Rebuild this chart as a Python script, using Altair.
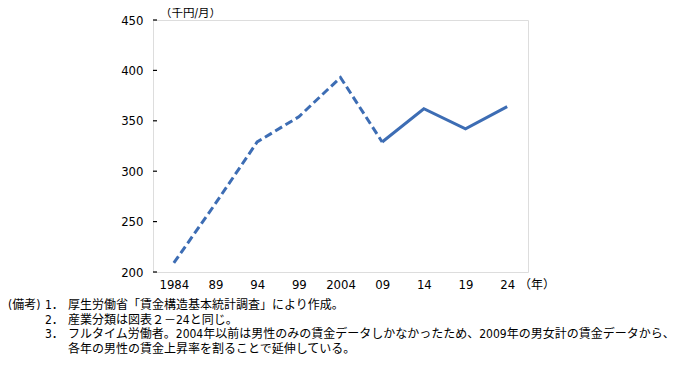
import altair as alt
import pandas as pd

labels = ["1984", "89", "94", "99", "2004", "09", "14", "19", "24"]
values = [209, 268, 329, 354, 393, 329, 362, 342, 364]
y_ticks = [200, 250, 300, 350, 400, 450]
dashed_idx = [0, 1, 2, 3, 4, 5]
solid_idx = [5, 6, 7, 8]

unit_label = "（千円/月）"
year_label = "（年）"
note_head = "(備考)"
note_nums = ["1．", "2．", "3．"]
note_lines = [
    "厚生労働省「賃金構造基本統計調査」により作成。",
    "産業分類は図表２－24と同じ。",
    "フルタイム労働者。2004年以前は男性のみの賃金データしかなかったため、2009年の男女計の賃金データから、",
    "各年の男性の賃金上昇率を割ることで延伸している。",
]

FONT = "DejaVu Sans Condensed, Liberation Sans Narrow, Noto Sans CJK JP, sans-serif"
JFONT = "DejaVu Sans Condensed, Noto Sans CJK JP, sans-serif"
COLOR = "#3d6db4"

df = pd.DataFrame({"label": labels, "value": values})
df_dash = df.iloc[dashed_idx]
df_solid = df.iloc[solid_idx]
df_ticks = pd.DataFrame({"value": y_ticks})

xscale = alt.Scale(domain=labels, padding=0.5)
yscale = alt.Scale(domain=[200, 450], nice=False, zero=False)
xaxis = alt.Axis(title=None, labelAngle=0, ticks=False, domain=False,
                 labelPadding=6, labelFont=FONT, labelFontSize=13,
                 labelColor="#000", grid=False)
yaxis = alt.Axis(title=None, values=y_ticks, ticks=False, domain=False,
                 labelPadding=10, labelFont=FONT, labelFontSize=13,
                 labelColor="#000", grid=False)


def X():
    return alt.X("label:O", sort=labels, scale=xscale, axis=xaxis)


def Y():
    return alt.Y("value:Q", scale=yscale, axis=yaxis)


dashed = alt.Chart(df_dash).mark_line(
    color=COLOR, strokeWidth=3, strokeDash=[8, 4], strokeCap="butt"
).encode(x=X(), y=Y())

solid = alt.Chart(df_solid).mark_line(
    color=COLOR, strokeWidth=3
).encode(x=X(), y=Y())

ticks = alt.Chart(df_ticks).mark_rule(
    color="#000", strokeWidth=1.2
).encode(
    y=Y(),
    x=alt.value(0),
    x2=alt.value(4),
)


def txt(t, x, y, size=12, align="left"):
    return alt.Chart(pd.DataFrame({"t": [t]})).mark_text(
        align=align, baseline="middle", font=JFONT, fontSize=size, color="#000"
    ).encode(text="t:N", x=alt.value(x), y=alt.value(y))


ox, oy = 153, 20  # page position of plot origin
layers = [dashed, solid, ticks,
          txt(unit_label, 160 - ox, 14.4 - oy, size=11.5),
          txt(year_label, 519 - ox, 284.5 - oy),
          txt(note_head, 8 - ox, 305 - oy)]
for n, yy in zip(note_nums, [305, 319.5, 334]):
    layers.append(txt(n, 45 - ox, yy - oy))
for line, yy in zip(note_lines, [305, 319.5, 334, 348.5]):
    layers.append(txt(line, 68 - ox, yy - oy))

chart = alt.layer(*layers).properties(
    width=375,
    height=252,
    autosize=alt.AutoSizeParams(type="none"),
    padding={"left": 145, "top": 12, "right": 149, "bottom": 87},
).configure_view(stroke="#000", strokeWidth=1.5).configure(background="white")

chart.save("out.html", embed_options={"renderer": "svg", "actions": False})
